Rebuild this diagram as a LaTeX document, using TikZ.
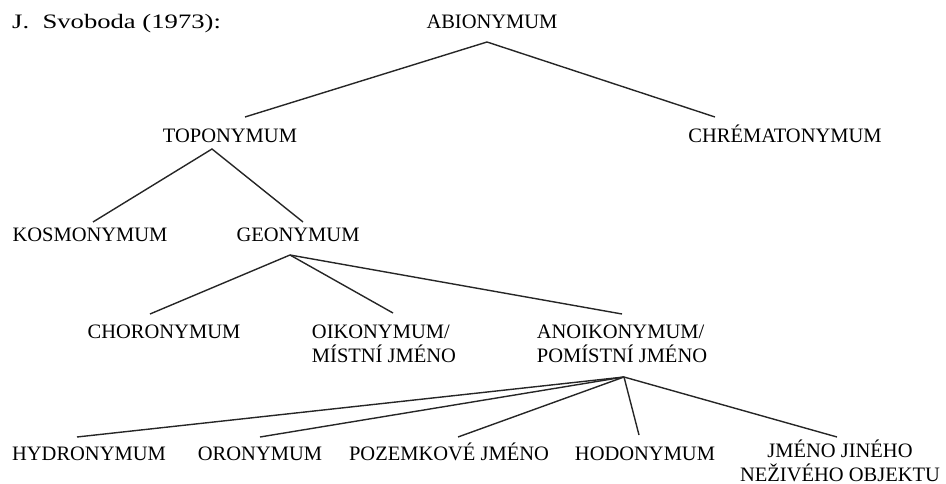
\documentclass[tikz,border=0pt]{standalone}
\usepackage{fontspec}
\setmainfont{Liberation Serif}
\usetikzlibrary{calc}
\begin{document}
\begin{tikzpicture}[x=1pt,y=-1pt,
  lbl/.style={inner sep=0pt, anchor=base, font=\fontsize{20.5}{23.5}\selectfont},
  edge/.style={line width=1.4pt, black!85}]
\useasboundingbox (0,0) rectangle (946,484);
% nodes
\node[lbl, anchor=base west] (title) at (12,29) {\scalebox{1.3}[1]{J.\ \ Svoboda (1973):}};
\node[lbl] (abio) at (492,29) {ABIONYMUM};
\node[lbl] (topo) at (230,143) {TOPONYMUM};
\node[lbl] (chrema) at (785,143) {CHRÉMATONYMUM};
\node[lbl] (kosmo) at (90,241) {KOSMONYMUM};
\node[lbl] (geo) at (298,241) {GEONYMUM};
\node[lbl] (choro) at (164,338) {CHORONYMUM};
\node[lbl, align=left] (oiko) at (384,362) {OIKONYMUM/\\MÍSTNÍ JMÉNO};
\node[lbl, align=left] (anoiko) at (622,362) {ANOIKONYMUM/\\POMÍSTNÍ JMÉNO};
\node[lbl] (hydro) at (89,460) {HYDRONYMUM};
\node[lbl] (oro) at (260,460) {ORONYMUM};
\node[lbl] (pozem) at (449,460) {POZEMKOVÉ JMÉNO};
\node[lbl] (hodo) at (645,460) {HODONYMUM};
\node[lbl, align=center] (jmeno) at (840,481) {JMÉNO JINÉHO\\NEŽIVÉHO OBJEKTU};
% connectors
\draw[edge] ($(topo.base)+(15,-26)$) -- ($(abio.base)+(-5,13)$) -- ($(chrema.base)+(-70,-26)$);
\draw[edge] ($(kosmo.base)+(3,-19)$) -- ($(topo.base)+(-18,6)$) -- ($(geo.base)+(5,-19)$);
\draw[edge] ($(geo.base)+(-8,14)$) -- ($(choro.base)+(-14,-24)$);
\draw[edge] ($(geo.base)+(-8,14)$) -- ($(oiko.base)+(9,-49)$);
\draw[edge] ($(geo.base)+(-8,14)$) -- ($(anoiko.base)+(0,-48)$);
\draw[edge] ($(anoiko.base)+(2,15)$) -- ($(hydro.base)+(-12,-23)$);
\draw[edge] ($(anoiko.base)+(2,15)$) -- ($(oro.base)+(0,-23)$);
\draw[edge] ($(anoiko.base)+(2,15)$) -- ($(pozem.base)+(9,-23)$);
\draw[edge] ($(anoiko.base)+(2,15)$) -- ($(hodo.base)+(-6,-25)$);
\draw[edge] ($(anoiko.base)+(2,15)$) -- ($(jmeno.base)+(-3,-44)$);
\end{tikzpicture}
\end{document}
